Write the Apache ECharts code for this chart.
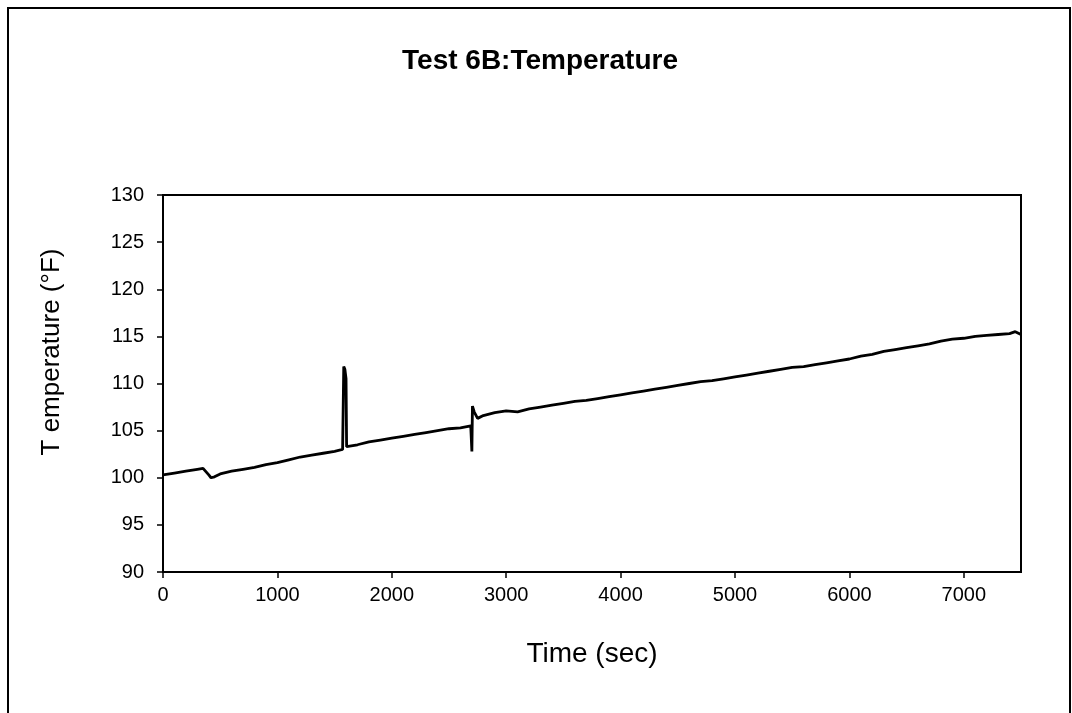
<!DOCTYPE html>
<html>
<head>
<meta charset="utf-8">
<script src="https://cdn.jsdelivr.net/npm/echarts@6/dist/echarts.min.js"></script>
<style>
html,body{margin:0;padding:0;background:#fff;}
#chart{width:1072px;height:713px;}
</style>
</head>
<body>
<div id="chart"></div>
<script>
const titleText = "Test 6B:Temperature";
const xAxisTitle = "Time (sec)";
const yAxisTitle = "T emperature (\u00B0F)";
const timeSec = [0,100,200,300,350,400,420,450,500,600,700,800,900,1000,1100,1200,1300,1400,1500,1570,1580,1590,1600,1605,1700,1800,1900,2000,2100,2200,2300,2400,2500,2600,2690,2700,2705,2720,2750,2800,2900,3000,3100,3200,3300,3400,3500,3600,3700,3800,3900,4000,4100,4200,4300,4400,4500,4600,4700,4800,4900,5000,5100,5200,5300,5400,5500,5600,5700,5800,5900,6000,6100,6200,6300,6400,6500,6600,6700,6800,6900,7000,7100,7200,7300,7400,7450,7500];
const tempF = [100.3,100.5,100.7,100.9,101.0,100.3,100.0,100.1,100.4,100.7,100.9,101.1,101.4,101.6,101.9,102.2,102.4,102.6,102.8,103.0,111.8,111.5,110.5,103.3,103.5,103.8,104.0,104.2,104.4,104.6,104.8,105.0,105.2,105.3,105.5,102.8,107.6,107.0,106.3,106.6,106.9,107.1,107.0,107.3,107.5,107.7,107.9,108.1,108.2,108.4,108.6,108.8,109.0,109.2,109.4,109.6,109.8,110.0,110.2,110.3,110.5,110.7,110.9,111.1,111.3,111.5,111.7,111.8,112.0,112.2,112.4,112.6,112.9,113.1,113.4,113.6,113.8,114.0,114.2,114.5,114.7,114.8,115.0,115.1,115.2,115.3,115.5,115.2];

const FONT = 'Liberation Sans, Arial, sans-serif';
const chart = echarts.init(document.getElementById('chart'), null, {renderer:'canvas'});
const pts = timeSec.map((t,i)=>[t,tempF[i]]);
chart.setOption({
  backgroundColor:'#fff',
  animation:false,
  textStyle:{fontFamily:FONT, color:'#000'},
  title:{text:titleText,left:535,top:42,textAlign:'center',
    textStyle:{fontFamily:FONT,fontWeight:'bold',fontSize:28,color:'#000'}},
  graphic:[
    {type:'rect',shape:{x:8,y:8,width:1062,height:720},style:{fill:'none',stroke:'#000',lineWidth:2},silent:true},
    {type:'text',x:52,y:352,rotation:Math.PI/2,silent:true,
      style:{text:yAxisTitle,fill:'#000',font:'26px '+FONT,textAlign:'center',textVerticalAlign:'middle'}}
  ],
  grid:{left:163,top:195,width:858,height:377,show:true,borderColor:'#000',borderWidth:2,backgroundColor:'#fff'},
  xAxis:{type:'value',min:0,max:7500,interval:1000,
    name:xAxisTitle,nameLocation:'middle',nameGap:68,
    nameTextStyle:{fontSize:28,color:'#000',fontFamily:FONT},
    axisLine:{lineStyle:{color:'#000',width:2}},
    axisTick:{show:true,length:6,inside:false,lineStyle:{color:'#000',width:1.5}},
    axisLabel:{showMaxLabel:false,fontSize:20,color:'#000',margin:13,formatter:v=>String(v)},
    splitLine:{show:false}},
  yAxis:{type:'value',min:90,max:130,interval:5,
    axisLine:{show:true,lineStyle:{color:'#000',width:2}},
    axisTick:{show:true,length:6,inside:false,lineStyle:{color:'#000',width:1.5}},
    axisLabel:{fontSize:20,color:'#000',margin:19},
    splitLine:{show:false}},
  series:[{type:'line',data:pts,showSymbol:false,symbol:'none',
    lineStyle:{color:'#000',width:2.8},clip:true}]
});
</script>
</body>
</html>
